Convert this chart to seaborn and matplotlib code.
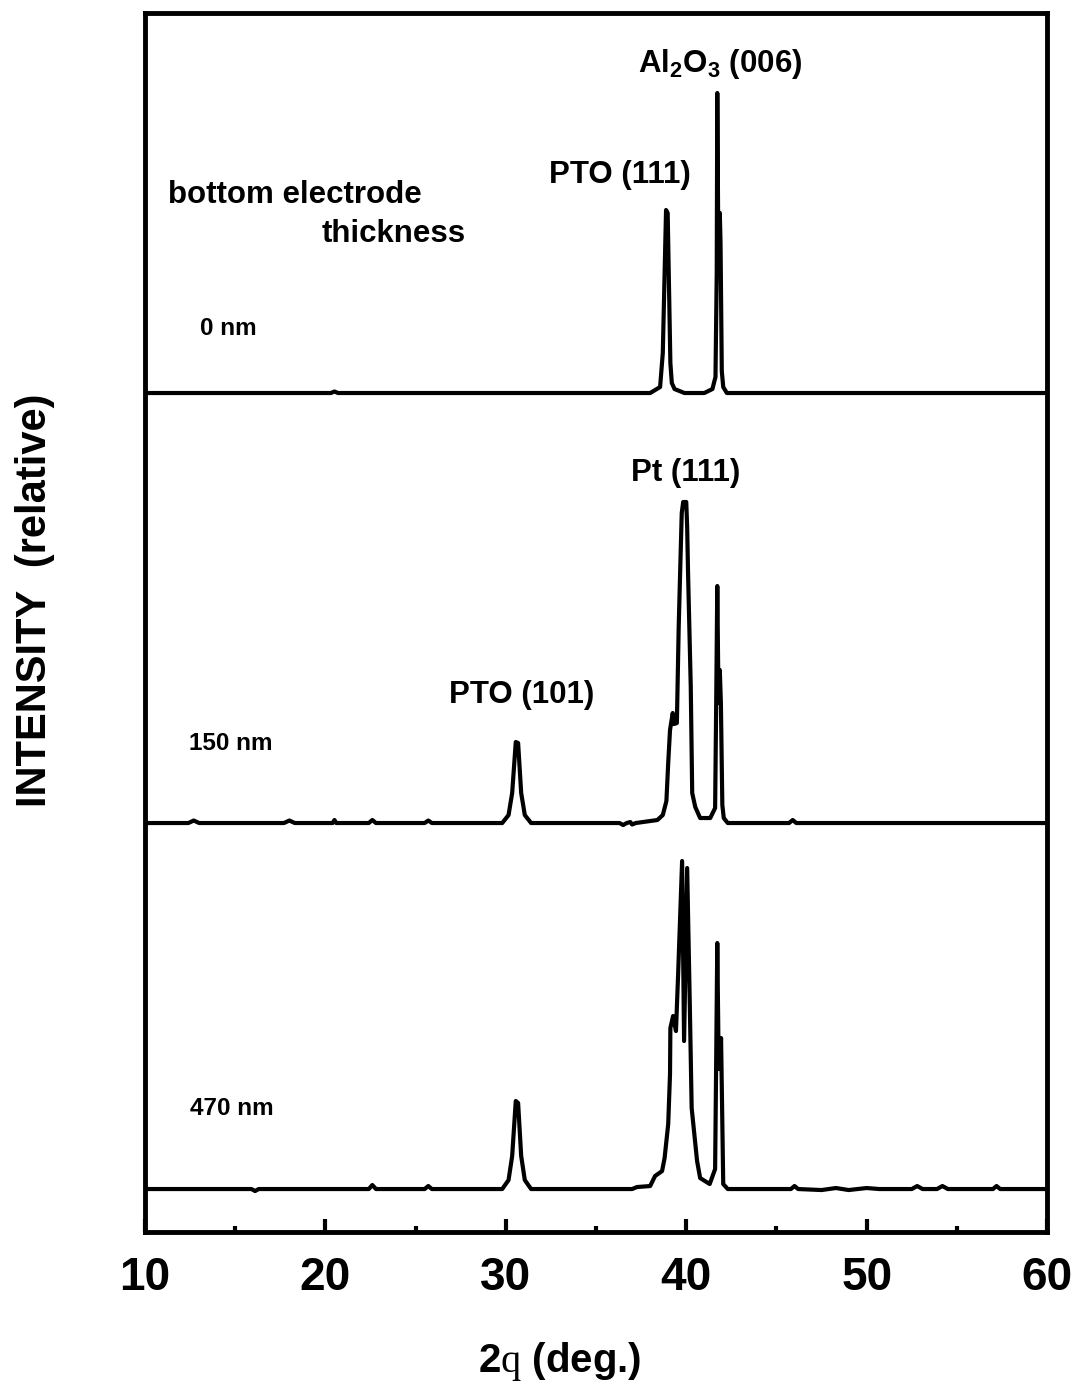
import matplotlib
matplotlib.use("Agg")
import matplotlib.pyplot as plt
import seaborn as sns
import pandas as pd

# XRD scans, 2theta (deg) vs relative intensity (arb. units)
TWO_THETA_0NM = [10, 20.3, 20.5, 20.7, 38.0, 38.55, 38.7, 38.88, 38.97, 39.12, 39.2, 39.35,
                 39.9, 41.0, 41.45, 41.62, 41.69, 41.72, 41.78, 41.86, 41.9, 41.97, 42.05,
                 42.25, 60]
INT_0NM = [0, 0, 1.5, 0, 0, 6, 40, 183, 180, 30, 10, 4,
           0, 0, 4, 16, 120, 300, 140, 180, 150, 22, 6,
           0, 0]

TWO_THETA_150NM = [10, 12.4, 12.7, 13.0, 17.7, 18.0, 18.3, 20.4, 20.5, 20.6, 22.4, 22.6, 22.8,
                   25.5, 25.7, 25.9, 29.8, 30.15, 30.35, 30.55, 30.68, 30.85, 31.05, 31.4,
                   36.3, 36.5, 36.7, 36.9, 37.0, 37.2, 38.0, 38.4, 38.7, 38.9, 39.0, 39.1,
                   39.25, 39.32, 39.48, 39.58, 39.66, 39.75, 39.83, 40.0, 40.05, 40.1, 40.25,
                   40.33, 40.5, 40.77, 41.33, 41.6, 41.66, 41.72, 41.79, 41.86, 41.92, 42.0,
                   42.08, 42.3, 45.7, 45.9, 46.1, 60]
INT_150NM = [0, 0, 2.5, 0, 0, 2.5, 0, 0, 3, 0, 0, 3, 0,
             0, 2.5, 0, 0, 8, 30, 81, 80, 30, 8, 0,
             0, -2, 0, 1, -1.5, 0, 2, 3, 8, 22, 60, 93,
             110, 99, 100, 195, 250, 310, 321, 321, 296, 250, 136,
             30, 16, 5, 5, 15, 120, 237, 120, 153, 120, 18,
             5, 0, 0, 3, 0, 0]

TWO_THETA_470NM = [10, 15.9, 16.1, 16.3, 22.4, 22.6, 22.8, 25.5, 25.7, 25.9, 29.8, 30.15,
                   30.35, 30.55, 30.68, 30.85, 31.05, 31.4, 37.0, 37.27, 38.0, 38.27, 38.66,
                   38.8, 39.0, 39.1, 39.12, 39.27, 39.43, 39.55, 39.77, 39.88, 40.05, 40.2,
                   40.3, 40.6, 40.77, 41.3, 41.6, 41.66, 41.72, 41.8, 41.93, 42.05, 42.3,
                   45.8, 46.0, 46.2, 47.5, 48.3, 49.0, 50.0, 50.7, 52.5, 52.8, 53.1, 53.9,
                   54.2, 54.5, 57.0, 57.2, 57.4, 60]
INT_470NM = [0, 0, -2, 0, 0, 4, 0, 0, 3, 0, 0, 9,
             33, 88, 86, 33, 9, 0, 0, 2, 3, 13, 18,
             31, 65, 115, 161, 173, 158, 215, 328, 148, 321, 181,
             81, 28, 11, 5, 20, 130, 246, 120, 151, 5, 0,
             0, 3, 0, -1, 1, -1, 1, 0, 0, 3, 0, 0,
             3, 0, 0, 3, 0, 0]

SAMPLES = ["0 nm", "150 nm", "470 nm"]
OFFSETS = [839, 409, 43]

frames = []
for name, tt, inten, off in zip(SAMPLES,
                                [TWO_THETA_0NM, TWO_THETA_150NM, TWO_THETA_470NM],
                                [INT_0NM, INT_150NM, INT_470NM], OFFSETS):
    frames.append(pd.DataFrame({"two_theta": tt,
                                "intensity": [v + off for v in inten],
                                "sample": name}))
df = pd.concat(frames, ignore_index=True)

sns.set_theme(style="white")
plt.rcParams["font.family"] = ["Liberation Sans", "DejaVu Sans"]
plt.rcParams["font.weight"] = "bold"
plt.rcParams["text.color"] = "black"
plt.rcParams["xtick.color"] = "black"
plt.rcParams["xtick.labelcolor"] = "black"
plt.rcParams["axes.labelcolor"] = "black"
plt.rcParams["mathtext.fontset"] = "custom"
plt.rcParams["mathtext.rm"] = "Liberation Sans:bold"
plt.rcParams["mathtext.it"] = "Liberation Sans:bold"
plt.rcParams["mathtext.bf"] = "Liberation Sans:bold"
plt.rcParams["mathtext.tt"] = "Liberation Serif:weight=normal"

fig = plt.figure(figsize=(10.76, 13.84), dpi=100)
ax = fig.add_axes([0.1348, 0.1098, 0.8383, 0.8808])

for name in SAMPLES:
    sub = df[df["sample"] == name]
    sns.lineplot(data=sub, x="two_theta", y="intensity", ax=ax, color="black",
                 linewidth=3.0, estimator=None, sort=False, legend=False)

ax.set_xlim(10, 60)
ax.set_ylim(0, 1219)
ax.set_xticks(range(10, 61, 10))
ax.set_xticks(range(15, 60, 10), minor=True)
ax.set_xticklabels([str(v) for v in range(10, 61, 10)])
ax.set_yticks([])
ax.set_xlabel("")
ax.set_ylabel("")
ax.tick_params(axis="x", which="major", direction="in", length=9.5, width=3,
               labelsize=33, pad=17, bottom=True, top=False, color="black",
               labelcolor="black")
ax.tick_params(axis="x", which="minor", direction="in", length=4, width=3,
               bottom=True, top=False, color="black")
for s in ax.spines.values():
    s.set_linewidth(3.5)
    s.set_color("black")

lab = dict(fontsize=22.5, fontweight="bold", color="black")
ax.text(41.87, 1160, r"Al$_2$O$_3$ (006)", ha="center", va="baseline", **lab)
ax.text(36.33, 1049, "PTO (111)", ha="center", va="baseline", **lab)
ax.text(39.99, 751, "Pt (111)", ha="center", va="baseline", **lab)
ax.text(30.87, 529, "PTO (101)", ha="center", va="baseline", **lab)
ax.text(11.27, 1029, "bottom electrode", ha="left", va="baseline", **lab)
ax.text(19.81, 990, "thickness", ha="left", va="baseline", **lab)

small = dict(fontsize=17.5, fontweight="bold", color="black")
ax.text(13.05, 897, "0 nm", ha="left", va="baseline", **small)
ax.text(12.44, 482, "150 nm", ha="left", va="baseline", **small)
ax.text(12.5, 117, "470 nm", ha="left", va="baseline", **small)

fig.text(35 / 1076, 1 - 600 / 1384, "INTENSITY  (relative)", rotation=90,
         ha="center", va="center", fontsize=30, fontweight="bold", color="black")
fig.text(560 / 1076, 1 - 1372 / 1384, r"2$\mathtt{q}$ (deg.)", ha="center",
         va="baseline", fontsize=29, fontweight="bold", color="black")

fig.savefig("out.png", dpi=100)
plt.close(fig)
